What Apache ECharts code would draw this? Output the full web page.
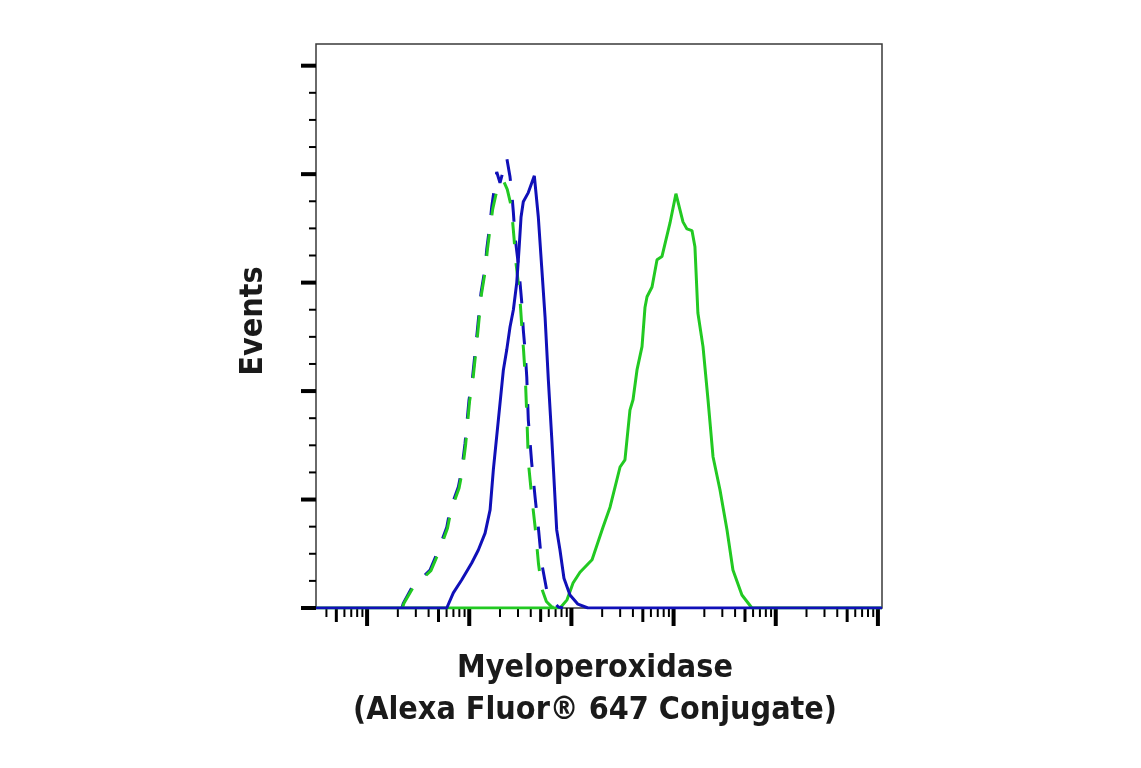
<!DOCTYPE html>
<html>
<head>
<meta charset="utf-8">
<script src="https://cdn.jsdelivr.net/npm/echarts@6/dist/echarts.min.js"></script>
<style>
html,body{margin:0;padding:0;background:#fff;}
#chart{width:1141px;height:768px;}
</style>
</head>
<body>
<div id="chart"></div>
<script>
// x values: log10 fluorescence intensity; y values: relative events (% of max scale)
const xTitle = "Myeloperoxidase\n(Alexa Fluor® 647 Conjugate)";
const yTitle = "Events";

const xDecades = [1, 2, 3, 4, 5, 6];
const yMajorTicks = [0, 20, 40, 60, 80, 100];
const yMinorTicks = [5, 10, 15, 25, 30, 35, 45, 50, 55, 65, 70, 75, 85, 90, 95];

// Solid green: Myeloperoxidase-stained (positive cells)
const greenSolidX = [0.5, 2.85, 2.889, 2.957, 3.016, 3.084, 3.202, 3.309, 3.378, 3.427, 3.476, 3.524, 3.573, 3.603, 3.642, 3.691, 3.720, 3.740, 3.789, 3.838, 3.886, 3.965, 4.023, 4.092, 4.131, 4.180, 4.209, 4.238, 4.288, 4.337, 4.386, 4.454, 4.523, 4.581, 4.669, 4.767, 6.04];
const greenSolidY = [0, 0, 0, 1.5, 4.6, 6.6, 8.9, 14.9, 18.6, 22.3, 26.0, 27.3, 36.5, 38.4, 43.9, 48.2, 55.4, 57.4, 59.2, 64.2, 64.8, 71.0, 76.4, 71.2, 69.9, 69.6, 66.6, 54.4, 48.2, 38.4, 27.9, 21.8, 14.4, 7.0, 2.4, 0, 0];

// Solid blue: Myeloperoxidase-stained (negative cells)
const blueSolidX = [0.5, 1.780, 1.844, 1.927, 2.024, 2.089, 2.155, 2.204, 2.236, 2.285, 2.334, 2.367, 2.399, 2.432, 2.465, 2.487, 2.507, 2.529, 2.578, 2.637, 2.676, 2.709, 2.742, 2.774, 2.807, 2.823, 2.856, 2.888, 2.927, 2.986, 3.064, 3.162, 6.04];
const blueSolidY = [0, 0, 2.8, 5.2, 8.3, 10.7, 13.8, 18.1, 25.5, 34.7, 43.9, 47.6, 51.8, 55.0, 60.0, 66.1, 72.1, 74.9, 76.6, 79.7, 72.1, 62.9, 53.7, 42.1, 31.5, 26.0, 14.4, 10.7, 5.5, 2.4, 0.7, 0, 0];

// Dashed blue: isotype control (negative cells)
const blueDashX = [1.340, 1.355, 1.437, 1.616, 1.698, 1.780, 1.812, 1.893, 1.927, 1.959, 1.998, 2.030, 2.073, 2.115, 2.155, 2.171, 2.204, 2.220, 2.269, 2.301, 2.367, 2.399, 2.416, 2.432, 2.448, 2.475, 2.497, 2.514, 2.529, 2.546, 2.563, 2.578, 2.611, 2.644, 2.676, 2.709, 2.758, 2.807, 2.872, 2.918];
const blueDashY = [0, 0.9, 3.7, 7.0, 10.7, 14.9, 18.1, 22.3, 25.5, 30.4, 38.4, 42.1, 50.0, 58.1, 62.7, 66.1, 71.0, 74.0, 80.4, 78.4, 83.0, 79.5, 76.6, 72.9, 68.5, 64.2, 60.0, 56.3, 51.3, 47.6, 42.6, 34.7, 26.8, 20.5, 14.9, 8.3, 3.3, 1.5, 0.2, 0];

// Dashed green: isotype control (positive cells)
const greenDashX = [1.345, 1.362, 1.445, 1.625, 1.706, 1.787, 1.820, 1.900, 1.933, 1.965, 2.003, 2.035, 2.078, 2.119, 2.159, 2.176, 2.208, 2.230, 2.275, 2.330, 2.372, 2.402, 2.420, 2.438, 2.455, 2.480, 2.500, 2.517, 2.532, 2.549, 2.565, 2.580, 2.613, 2.646, 2.678, 2.711, 2.755, 2.807, 2.888];
const greenDashY = [0, 0.9, 3.6, 6.9, 10.5, 14.7, 17.9, 22.1, 25.3, 30.2, 38.1, 41.9, 49.7, 57.8, 62.4, 65.8, 70.6, 73.6, 77.4, 79.0, 77.2, 74.8, 72.2, 68.3, 64.0, 60.0, 56.0, 51.2, 47.4, 42.4, 34.6, 26.6, 20.3, 14.7, 8.1, 3.5, 1.2, 0.2, 0];

const BLUE = '#1010b8';
const GREEN = '#22c922';

function pairs(xs, ys) { return xs.map((x, i) => [x, ys[i]]); }

const X_MIN = 0.5, X_MAX = 6.04, Y_MIN = 0, Y_MAX = 104;

// tick definitions (positions in axis units), kind: 0 decade, 1 half-decade, 2 minor
const xTicks = [];
xDecades.forEach(d => {
  xTicks.push([d, 0]);
  for (let k = 2; k <= 9; k++) {
    const v = d + Math.log10(k);
    if (v <= X_MAX) xTicks.push([v, k === 5 ? 1 : 2]);
  }
  for (let k = 2; k <= 9; k++) {
    const v = d - 1 + Math.log10(k);
    if (d === xDecades[0] && v >= X_MIN) xTicks.push([v, k === 5 ? 1 : 2]);
  }
});
const yTicks = yMajorTicks.map(v => [v, 0]).concat(yMinorTicks.map(v => [v, 2]));

const chart = echarts.init(document.getElementById('chart'), null, { renderer: 'canvas' });
const titleFont = '"DejaVu Sans Condensed", "Liberation Sans Narrow", "Liberation Sans", sans-serif';

chart.setOption({
  animation: false,
  backgroundColor: '#ffffff',
  grid: { left: 316, top: 44, width: 566, height: 564, show: true, borderColor: '#3a3a3a', borderWidth: 1.5, backgroundColor: 'transparent', containLabel: false },
  xAxis: {
    type: 'value', min: X_MIN, max: X_MAX,
    axisLine: { show: false }, axisTick: { show: false }, axisLabel: { show: false }, splitLine: { show: false },
    name: xTitle, nameLocation: 'middle', nameGap: 40,
    nameTextStyle: { fontFamily: titleFont, fontWeight: 'bold', fontSize: 32, color: '#1a1a1a', lineHeight: 42, padding: [0, 8, 0, 0] }
  },
  yAxis: {
    type: 'value', min: Y_MIN, max: Y_MAX,
    axisLine: { show: false }, axisTick: { show: false }, axisLabel: { show: false }, splitLine: { show: false },
    name: yTitle, nameLocation: 'middle', nameGap: 46, nameRotate: 90,
    nameTextStyle: { fontFamily: titleFont, fontWeight: 'bold', fontSize: 32, color: '#1a1a1a', padding: [0, 0, 0, 10] }
  },
  series: [
    {
      type: 'custom', name: 'xticks', silent: true, clip: false, z: 1,
      data: xTicks,
      renderItem: function (params, api) {
        const p = api.coord([api.value(0), Y_MIN]);
        const kind = api.value(1);
        const len = kind === 0 ? 18 : (kind === 1 ? 14 : 9);
        const w = kind === 0 ? 4 : (kind === 1 ? 3 : 2);
        return { type: 'line', shape: { x1: p[0], y1: p[1], x2: p[0], y2: p[1] + len }, style: { stroke: '#000', lineWidth: w } };
      }
    },
    {
      type: 'custom', name: 'yticks', silent: true, clip: false, z: 1,
      data: yTicks,
      renderItem: function (params, api) {
        const p = api.coord([X_MIN, api.value(0)]);
        const kind = api.value(1);
        const len = kind === 0 ? 15 : 7;
        const w = kind === 0 ? 4 : 2;
        return { type: 'line', shape: { x1: p[0], y1: p[1], x2: p[0] - len, y2: p[1] }, style: { stroke: '#000', lineWidth: w } };
      }
    },
    { type: 'line', name: 'green solid', data: pairs(greenSolidX, greenSolidY), showSymbol: false, symbol: 'none', z: 2,
      lineStyle: { color: GREEN, width: 3 } },
    { type: 'line', name: 'blue dashed', data: pairs(blueDashX, blueDashY), showSymbol: false, symbol: 'none', z: 3,
      lineStyle: { color: BLUE, width: 3, type: [22, 19] } },
    { type: 'line', name: 'green dashed', data: pairs(greenDashX, greenDashY), showSymbol: false, symbol: 'none', z: 4,
      lineStyle: { color: GREEN, width: 3, type: [22, 19] } },
    { type: 'line', name: 'blue solid', data: pairs(blueSolidX, blueSolidY), showSymbol: false, symbol: 'none', z: 5,
      lineStyle: { color: BLUE, width: 3 } }
  ]
});
</script>
</body>
</html>
